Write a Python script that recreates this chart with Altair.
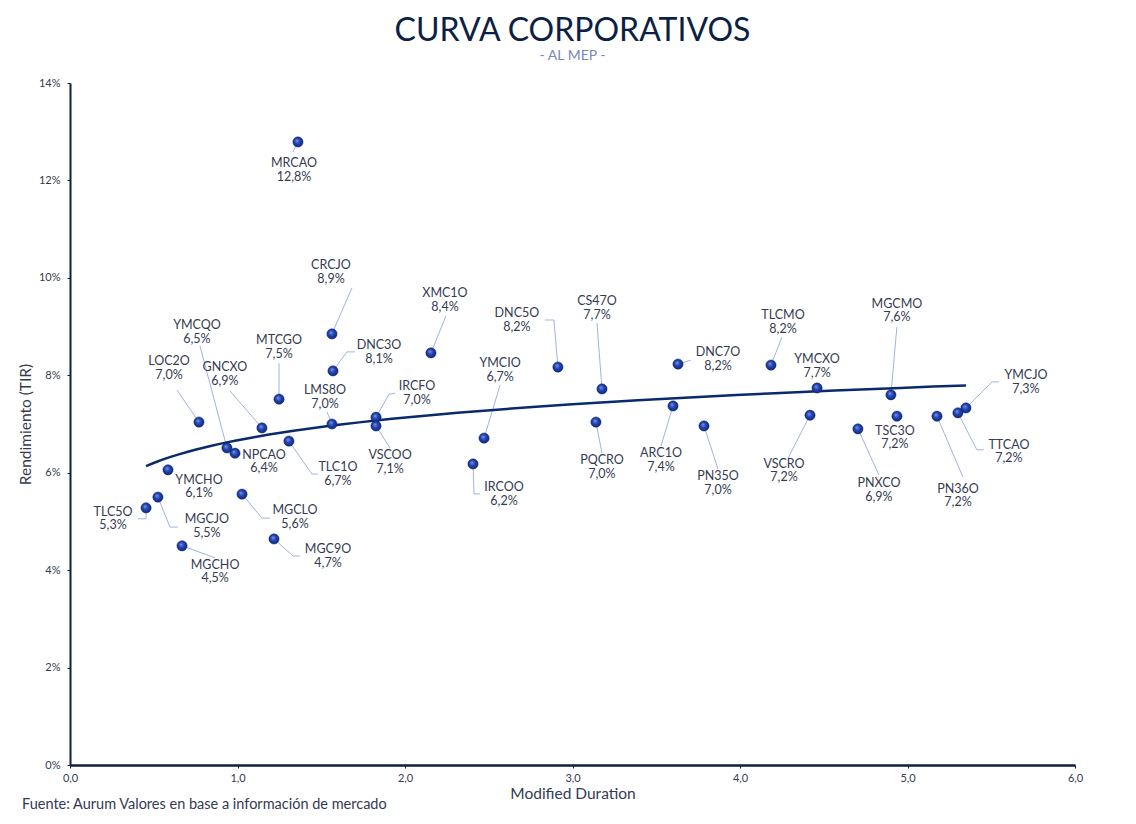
import altair as alt
import pandas as pd

# ---------------- data ----------------
names = ["MRCAO", "CRCJO", "XMC1O", "DNC5O", "CS47O", "DNC7O", "TLCMO", "MGCMO", "YMCXO",
         "YMCJO", "TTCAO", "PN36O", "TSC3O", "VSCRO", "PNXCO", "PN35O", "ARC1O", "PQCRO",
         "YMCIO", "IRCOO", "IRCFO", "VSCOO", "DNC3O", "LMS8O", "MTCGO", "GNCXO", "TLC1O",
         "YMCQO", "NPCAO", "LOC2O", "YMCHO", "MGCJO", "TLC5O", "MGCHO", "MGCLO", "MGC9O"]
duration = [1.361, 1.564, 2.155, 2.913, 3.176, 3.630, 4.185, 4.901, 4.460,
            5.349, 5.301, 5.176, 4.937, 4.418, 4.704, 3.785, 3.600, 3.140,
            2.472, 2.406, 1.827, 1.827, 1.570, 1.564, 1.248, 1.146, 1.307,
            0.937, 0.985, 0.770, 0.585, 0.525, 0.454, 0.669, 1.027, 1.218]
yield_pct = [12.79, 8.85, 8.46, 8.17, 7.72, 8.23, 8.21, 7.60, 7.74,
             7.33, 7.23, 7.16, 7.16, 7.18, 6.90, 6.96, 7.37, 7.04,
             6.71, 6.18, 7.14, 6.96, 8.09, 7.00, 7.51, 6.92, 6.65,
             6.51, 6.40, 7.04, 6.06, 5.50, 5.28, 4.50, 5.56, 4.64]
yield_label = ["12,8%", "8,9%", "8,4%", "8,2%", "7,7%", "8,2%", "8,2%", "7,6%", "7,7%",
               "7,3%", "7,2%", "7,2%", "7,2%", "7,2%", "6,9%", "7,0%", "7,4%", "7,0%",
               "6,7%", "6,2%", "7,0%", "7,1%", "8,1%", "7,0%", "7,5%", "6,9%", "6,7%",
               "6,5%", "6,4%", "7,0%", "6,1%", "5,5%", "5,3%", "4,5%", "5,6%", "4,7%"]

# label placement (pixel offsets from each dot) - layout only
label_dx = [-4, -1, 14, -41, -5, 40, 12, 6, 0,
            60, 51, 21, -2, -26, 21, 14, -12, 6,
            16, 31, 41, 14, 46, -7, 0, -37, 49,
            -30, 29, -30, 31, 49, -33, 33, 53, 54]
label_dy = [28, -62, -53, -47, -81, -5, -43, -84, -22,
            -26, 39, 79, 21, 55, 61, 57, 54, 45,
            -68, 30, -24, 36, -19, -27, -52, -54, 33,
            -116, 8, -54, 17, 29, 11, 26, 23, 17]
# leader lines: elbow and end offsets (pixels from dot); None = no leader
elbow = [(-5, 10), (20, -46), (15, -37), (-4, -47), (-5, -66), (13, -4), (11, -28), (6, -68), None,
         (26, -26), (19, 37), (26, 61), None, (-22, 43), (21, 46), (14, 43), (-12, 40), (6, 31),
         (16, -53), (1, 30), (13, -23), (14, 22), (14, -19), (-5, -12), (0, -36), (-32, -37), (23, 33),
         (-27, -102), None, (-22, -32), None, (12, 30), (0, 11), (33, 12), (20, 24), (19, 17)]
end = [(-5, 10), (20, -46), (15, -37), (-13, -47), (-5, -66), (13, -4), (11, -28), (6, -68), None,
       (33, -26), (26, 37), (26, 61), None, (-22, 43), (21, 46), (14, 43), (-12, 40), (6, 31),
       (16, -53), (7, 30), (19, -24), (14, 22), (22, -19), (-5, -12), (0, -36), (-32, -37), (29, 33),
       (-27, -102), None, (-22, -32), None, (20, 30), (-8, 11), (33, 12), (28, 24), (26, 17)]

x_ticks = [0, 1, 2, 3, 4, 5, 6]
y_ticks = [0, 2, 4, 6, 8, 10, 12, 14]

title_text = "CURVA CORPORATIVOS"
subtitle_text = "- AL MEP -"
footer_text = "Fuente: Aurum Valores en base a información de mercado"

# ---------------- layout ----------------
W, H = 1005, 682
X_MAX, Y_MAX = 6, 14
PX_X = W / X_MAX
PX_Y = H / Y_MAX

FONT = "Lato"
NAVY = "#0d1f45"
TEXT = "#343a52"

df = pd.DataFrame({
    "name": names, "dur": duration, "ytm": yield_pct, "lbl": yield_label,
    "ldx": label_dx, "ldy": label_dy,
})

rows = []
for n, x, y, b, e in zip(names, duration, yield_pct, elbow, end):
    if b is None:
        continue
    for k, (ox, oy) in enumerate([(0, 0), b, e]):
        rows.append({"name": n, "dur": x, "ytm": y, "k": k, "ox": ox, "oy": oy})
leaders_df = pd.DataFrame(rows)

xs = alt.Scale(domain=[0, X_MAX], nice=False, zero=True)
ys = alt.Scale(domain=[0, Y_MAX], nice=False, zero=True)

x_axis = alt.Axis(values=x_ticks, labelExpr="replace(format(datum.value, '.1f'), '.', ',')",
                  title="Modified Duration", grid=False, labelFlush=False)
y_axis = alt.Axis(values=y_ticks, labelExpr="datum.value + '%'",
                  title="Rendimiento (TIR)", grid=False, labelFlush=False)

base = alt.Chart(df)

leaders = alt.Chart(leaders_df).transform_calculate(
    px=f"datum.dur + datum.ox / {PX_X}",
    py=f"datum.ytm - datum.oy / {PX_Y}",
).mark_line(color="#a3b2e2", strokeWidth=1).encode(
    x=alt.X("px:Q", scale=xs, axis=x_axis),
    y=alt.Y("py:Q", scale=ys, axis=y_axis),
    detail="name:N",
    order="k:Q",
)

curve = base.transform_regression("dur", "ytm", method="log").mark_line(
    color="#0a2a6e", strokeWidth=2.5
).encode(
    x=alt.X("dur:Q", scale=xs),
    y=alt.Y("ytm:Q", scale=ys),
)

dot_fill = alt.RadialGradient(
    gradient="radial",
    stops=[alt.GradientStop(offset=0, color="#7d9cf0"),
           alt.GradientStop(offset=0.45, color="#2748b0"),
           alt.GradientStop(offset=1, color="#0b237a")],
    x1=0.38, y1=0.35, r1=0.0, x2=0.5, y2=0.5, r2=0.55,
)

dots = base.mark_point(filled=True, fill=dot_fill, size=105, opacity=1,
                       stroke="#0b237a", strokeWidth=0.5).encode(
    x=alt.X("dur:Q", scale=xs),
    y=alt.Y("ytm:Q", scale=ys),
)

lab = base.transform_calculate(
    lx=f"datum.dur + datum.ldx / {PX_X}",
    ly=f"datum.ytm - datum.ldy / {PX_Y}",
)

name_text = lab.mark_text(font=FONT, fontSize=12.5, color=TEXT, dy=-6.7,
                          align="center", baseline="middle").encode(
    x=alt.X("lx:Q", scale=xs),
    y=alt.Y("ly:Q", scale=ys),
    text="name:N",
)
value_text = lab.mark_text(font=FONT, fontSize=12.5, color=TEXT, dy=6.7,
                           align="center", baseline="middle").encode(
    x=alt.X("lx:Q", scale=xs),
    y=alt.Y("ly:Q", scale=ys),
    text="lbl:N",
)

footer = alt.Chart(pd.DataFrame({"t": [footer_text]})).mark_text(
    font=FONT, fontSize=14.5, color=TEXT, align="left", baseline="middle"
).encode(
    x=alt.value(-48),
    y=alt.value(H + 40),
    text="t:N",
)

chart = alt.layer(leaders, curve, dots, name_text, value_text, footer).properties(
    width=W,
    height=H,
    title=alt.TitleParams(
        text=title_text,
        subtitle=subtitle_text,
        font=FONT, fontSize=32, fontWeight=400, color=NAVY,
        subtitleFont=FONT, subtitleFontSize=14, subtitleColor="#7b86bd",
        subtitlePadding=1, anchor="middle", offset=13,
    ),
    autosize=alt.AutoSizeParams(type="none"),
    padding={"left": 62, "top": 75, "right": 53, "bottom": 51},
).configure_view(stroke=None).configure_axis(
    domainColor=NAVY, tickColor=NAVY, tickSize=3,
    labelFont=FONT, labelFontSize=11, labelColor=TEXT,
    titleFont=FONT, titleFontSize=15.5, titleFontWeight=400, titleColor=TEXT,
).configure_axisX(
    domainWidth=2.5, labelPadding=4, titlePadding=3,
).configure_axisY(
    domainWidth=2, labelPadding=7, titlePadding=5,
)

chart.save("out.html", embed_options={"renderer": "svg", "actions": False})
